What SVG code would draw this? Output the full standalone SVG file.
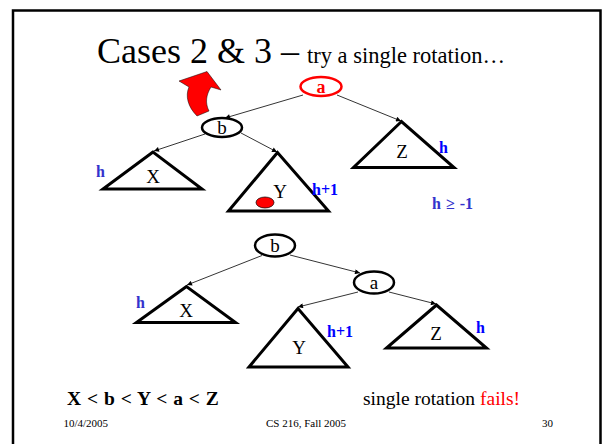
<svg xmlns="http://www.w3.org/2000/svg" width="602" height="444" viewBox="0 0 602 444">
<defs>
<marker id="ah" viewBox="0 0 10 10" refX="10" refY="5" markerWidth="6" markerHeight="5" orient="auto" markerUnits="userSpaceOnUse">
<path d="M0,0 L10,5 L0,10 Z" fill="#000"/>
</marker>
</defs>
<style>
.t{font-family:"Liberation Serif","Times New Roman",serif;fill:#000}
.node{fill:#fff;stroke:#000;stroke-width:2.5}
.tri{fill:#fff;stroke:#000;stroke-width:3;stroke-linejoin:miter}
.lab{font-family:"Liberation Serif","Times New Roman",serif;font-size:19px;text-anchor:middle;fill:#000}
.h{font-family:"Liberation Serif","Times New Roman",serif;font-size:16px;font-weight:bold;fill:#0000ff}
.h2{fill:#3333cc}
.edge{stroke:#000;stroke-width:0.8;fill:none;marker-end:url(#ah)}
</style>
<rect x="0" y="0" width="602" height="444" fill="#fff"/>
<rect x="13" y="10.5" width="587.5" height="450" fill="none" stroke="#000" stroke-width="2.5"/>

<text class="t" x="97" y="63" font-size="36">Cases 2 &amp; 3 –</text>
<text class="t" x="307" y="63" font-size="22.5">try a single rotation…</text>

<path d="M197,116 C188,107 185,96 189,87 L179,81 L207,71.5 L221,90 L211,87 C206,95 205,103 209,111 Z" fill="#ff0000" stroke="#000" stroke-width="0.5"/>

<g id="connectors">
<line class="edge" x1="303" y1="95" x2="225" y2="118"/>
<line class="edge" x1="337" y1="95" x2="401" y2="121"/>
<line class="edge" x1="205" y1="134" x2="154" y2="151"/>
<line class="edge" x1="241" y1="133" x2="277" y2="152"/>
<line class="edge" x1="262" y1="255.5" x2="187" y2="285"/>
<line class="edge" x1="290" y1="255" x2="360" y2="273"/>
<line class="edge" x1="358" y1="292" x2="298" y2="307"/>
<line class="edge" x1="389" y1="292" x2="436" y2="304"/>
</g>

<g id="top-a">
<ellipse cx="321" cy="86.5" rx="20.5" ry="9.5" fill="#fff" stroke="#ff0000" stroke-width="2.5"/>
<text x="321" y="93" font-family="Liberation Serif,serif" font-size="18" font-weight="bold" fill="#ff0000" text-anchor="middle">a</text>
</g>
<g id="top-b">
<ellipse class="node" cx="222" cy="127.5" rx="20" ry="9.5"/>
<text class="lab" x="222" y="134" font-size="20">b</text>
</g>
<g id="top-X">
<polygon class="tri" points="153,152 103,189 202,189"/>
<text class="lab" x="153" y="183">X</text>
<text class="h h2" x="96" y="177">h</text>
</g>
<g id="top-Y">
<polygon class="tri" points="277.5,152.5 228.5,211 328.5,211"/>
<text class="lab" x="280" y="198">Y</text>
<ellipse cx="265" cy="202.5" rx="9" ry="5.5" fill="#ff0000" stroke="#000" stroke-width="0.7"/>
<text class="h" x="312" y="195">h+1</text>
</g>
<g id="top-Z">
<polygon class="tri" points="401.5,121.5 353.5,167.5 454,167.5"/>
<text class="lab" x="402" y="158">Z</text>
<text class="h" x="439" y="153">h</text>
</g>
<text class="h h2" x="432" y="209" word-spacing="1">h ≥ -1</text>

<g id="bot-b">
<ellipse class="node" cx="275" cy="245.5" rx="20" ry="11"/>
<text class="lab" x="275" y="252" font-size="20">b</text>
</g>
<g id="bot-a">
<ellipse class="node" cx="374" cy="282.5" rx="20" ry="11"/>
<text class="lab" x="374" y="289" font-size="20">a</text>
</g>
<g id="bot-X">
<polygon class="tri" points="186.5,286.5 136.5,322.5 235.5,322.5"/>
<text class="lab" x="186" y="317">X</text>
<text class="h h2" x="136" y="307.5">h</text>
</g>
<g id="bot-Y">
<polygon class="tri" points="298,308.5 249,367 348,367"/>
<text class="lab" x="299" y="354">Y</text>
<text class="h" x="327" y="337">h+1</text>
</g>
<g id="bot-Z">
<polygon class="tri" points="436.5,305 386.5,348 486.5,348"/>
<text class="lab" x="436" y="340">Z</text>
<text class="h" x="476" y="333">h</text>
</g>

<text class="t" x="67" y="405" font-size="19.5" font-weight="bold" word-spacing="1">X &lt; b &lt; Y &lt; a &lt; Z</text>
<text class="t" x="363" y="405" font-size="19.5">single rotation <tspan fill="#ff0000">fails!</tspan></text>

<text class="t" x="63.5" y="427" font-size="11">10/4/2005</text>
<text class="t" x="266" y="427" font-size="11">CS 216, Fall 2005</text>
<text class="t" x="542" y="427" font-size="11">30</text>
</svg>
